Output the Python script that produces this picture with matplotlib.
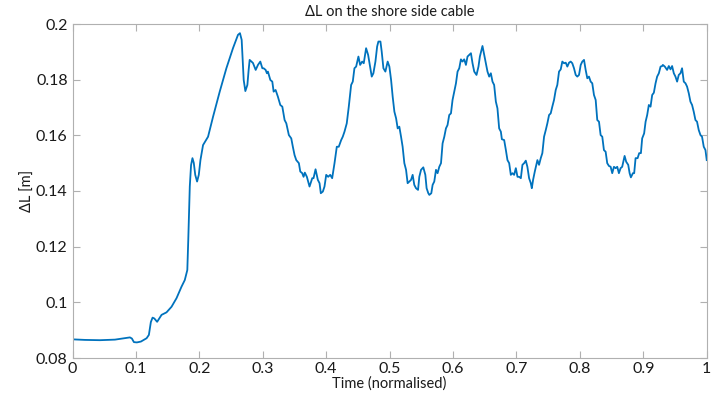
import matplotlib
matplotlib.use("Agg")
import matplotlib.pyplot as plt
from matplotlib.ticker import FuncFormatter

# values
time_norm = [
    0.0000, 0.0197, 0.0433, 0.0669, 0.0905, 0.0936, 0.0968, 0.1015, 0.1078, 0.1168,
    0.1204, 0.1235, 0.1262, 0.1290, 0.1334, 0.1404, 0.1482, 0.1561, 0.1640, 0.1718,
    0.1770, 0.1810, 0.1825, 0.1849, 0.1869, 0.1891, 0.1912, 0.1935, 0.1964, 0.1991,
    0.2017, 0.2058, 0.2137, 0.2216, 0.2321, 0.2426, 0.2530, 0.2609, 0.2640, 0.2667,
    0.2683, 0.2699, 0.2725, 0.2757, 0.2777, 0.2793, 0.2820, 0.2845, 0.2888, 0.2924,
    0.2961, 0.2993, 0.3013, 0.3045, 0.3065, 0.3081, 0.3119, 0.3150, 0.3171, 0.3202,
    0.3238, 0.3276, 0.3308, 0.3344, 0.3371, 0.3411, 0.3449, 0.3474, 0.3501, 0.3528,
    0.3569, 0.3591, 0.3622, 0.3643, 0.3663, 0.3695, 0.3737, 0.3780, 0.3800, 0.3832,
    0.3868, 0.3895, 0.3915, 0.3947, 0.3973, 0.4000, 0.4031, 0.4063, 0.4094, 0.4131,
    0.4167, 0.4198, 0.4236, 0.4261, 0.4288, 0.4324, 0.4356, 0.4393, 0.4419, 0.4445,
    0.4472, 0.4508, 0.4535, 0.4567, 0.4592, 0.4629, 0.4661, 0.4692, 0.4718, 0.4744,
    0.4776, 0.4803, 0.4823, 0.4855, 0.4875, 0.4902, 0.4933, 0.4969, 0.4996, 0.5023,
    0.5048, 0.5075, 0.5102, 0.5127, 0.5153, 0.5180, 0.5205, 0.5232, 0.5259, 0.5284,
    0.5311, 0.5338, 0.5363, 0.5389, 0.5416, 0.5448, 0.5468, 0.5495, 0.5531, 0.5563,
    0.5583, 0.5610, 0.5626, 0.5657, 0.5678, 0.5704, 0.5731, 0.5756, 0.5783, 0.5810,
    0.5835, 0.5862, 0.5888, 0.5913, 0.5940, 0.5967, 0.5992, 0.6019, 0.6046, 0.6071,
    0.6098, 0.6124, 0.6149, 0.6176, 0.6203, 0.6228, 0.6255, 0.6282, 0.6307, 0.6334,
    0.6370, 0.6401, 0.6423, 0.6448, 0.6464, 0.6491, 0.6518, 0.6543, 0.6570, 0.6596,
    0.6622, 0.6648, 0.6675, 0.6700, 0.6727, 0.6754, 0.6770, 0.6806, 0.6833, 0.6858,
    0.6885, 0.6911, 0.6937, 0.6963, 0.6990, 0.7016, 0.7042, 0.7069, 0.7094, 0.7121,
    0.7147, 0.7172, 0.7199, 0.7226, 0.7242, 0.7262, 0.7289, 0.7314, 0.7330, 0.7356,
    0.7383, 0.7408, 0.7435, 0.7462, 0.7487, 0.7514, 0.7540, 0.7565, 0.7592, 0.7619,
    0.7644, 0.7671, 0.7698, 0.7723, 0.7750, 0.7777, 0.7802, 0.7829, 0.7855, 0.7880,
    0.7907, 0.7934, 0.7959, 0.7986, 0.8013, 0.8038, 0.8065, 0.8091, 0.8117, 0.8143,
    0.8170, 0.8195, 0.8222, 0.8249, 0.8274, 0.8301, 0.8327, 0.8353, 0.8379, 0.8406,
    0.8431, 0.8458, 0.8485, 0.8510, 0.8537, 0.8564, 0.8589, 0.8615, 0.8642, 0.8667,
    0.8705, 0.8730, 0.8762, 0.8784, 0.8804, 0.8836, 0.8856, 0.8878, 0.8910, 0.8935,
    0.8962, 0.8982, 0.9013, 0.9036, 0.9061, 0.9087, 0.9114, 0.9140, 0.9166, 0.9193,
    0.9218, 0.9245, 0.9272, 0.9297, 0.9308, 0.9339, 0.9375, 0.9402, 0.9429, 0.9454,
    0.9481, 0.9507, 0.9533, 0.9559, 0.9586, 0.9611, 0.9638, 0.9665, 0.9690, 0.9717,
    0.9743, 0.9769, 0.9795, 0.9822, 0.9847, 0.9874, 0.9901, 0.9926, 0.9953, 0.9980,
    1.0000,
]

delta_L = [
    0.0867, 0.0865, 0.0864, 0.0866, 0.0874, 0.0870, 0.0857, 0.0856, 0.0859, 0.0871,
    0.0883, 0.0929, 0.0945, 0.0942, 0.0930, 0.0955, 0.0964, 0.0984, 0.1015, 0.1056,
    0.1080, 0.1116, 0.1224, 0.1416, 0.1493, 0.1518, 0.1501, 0.1458, 0.1434, 0.1458,
    0.1511, 0.1565, 0.1595, 0.1667, 0.1757, 0.1841, 0.1913, 0.1961, 0.1967, 0.1943,
    0.1871, 0.1799, 0.1759, 0.1781, 0.1835, 0.1871, 0.1865, 0.1860, 0.1835, 0.1853,
    0.1865, 0.1841, 0.1841, 0.1835, 0.1823, 0.1829, 0.1799, 0.1793, 0.1757, 0.1763,
    0.1739, 0.1709, 0.1703, 0.1655, 0.1643, 0.1601, 0.1589, 0.1559, 0.1529, 0.1511,
    0.1500, 0.1470, 0.1464, 0.1451, 0.1466, 0.1451, 0.1416, 0.1446, 0.1446, 0.1478,
    0.1440, 0.1428, 0.1392, 0.1398, 0.1416, 0.1458, 0.1451, 0.1458, 0.1446, 0.1500,
    0.1559, 0.1559, 0.1583, 0.1595, 0.1613, 0.1643, 0.1703, 0.1781, 0.1793, 0.1841,
    0.1847, 0.1883, 0.1853, 0.1865, 0.1859, 0.1913, 0.1889, 0.1847, 0.1811, 0.1823,
    0.1865, 0.1919, 0.1937, 0.1937, 0.1901, 0.1841, 0.1829, 0.1865, 0.1847, 0.1799,
    0.1739, 0.1685, 0.1661, 0.1625, 0.1631, 0.1595, 0.1559, 0.1500, 0.1476, 0.1428,
    0.1434, 0.1440, 0.1458, 0.1422, 0.1410, 0.1404, 0.1451, 0.1476, 0.1485, 0.1458,
    0.1410, 0.1392, 0.1386, 0.1392, 0.1422, 0.1434, 0.1476, 0.1464, 0.1487, 0.1500,
    0.1571, 0.1595, 0.1625, 0.1637, 0.1673, 0.1679, 0.1727, 0.1757, 0.1787, 0.1829,
    0.1841, 0.1873, 0.1865, 0.1873, 0.1853, 0.1883, 0.1889, 0.1895, 0.1859, 0.1829,
    0.1817, 0.1847, 0.1883, 0.1907, 0.1921, 0.1889, 0.1859, 0.1829, 0.1811, 0.1823,
    0.1793, 0.1781, 0.1721, 0.1697, 0.1625, 0.1613, 0.1586, 0.1583, 0.1547, 0.1511,
    0.1500, 0.1458, 0.1464, 0.1458, 0.1482, 0.1451, 0.1451, 0.1446, 0.1494, 0.1500,
    0.1509, 0.1487, 0.1446, 0.1428, 0.1410, 0.1440, 0.1470, 0.1494, 0.1511, 0.1494,
    0.1518, 0.1536, 0.1595, 0.1619, 0.1643, 0.1673, 0.1679, 0.1703, 0.1727, 0.1763,
    0.1781, 0.1829, 0.1837, 0.1865, 0.1859, 0.1861, 0.1847, 0.1861, 0.1865, 0.1859,
    0.1841, 0.1817, 0.1811, 0.1817, 0.1853, 0.1865, 0.1871, 0.1835, 0.1805, 0.1811,
    0.1793, 0.1787, 0.1745, 0.1727, 0.1655, 0.1649, 0.1601, 0.1595, 0.1547, 0.1541,
    0.1500, 0.1490, 0.1487, 0.1464, 0.1487, 0.1482, 0.1487, 0.1464, 0.1482, 0.1487,
    0.1526, 0.1505, 0.1494, 0.1464, 0.1449, 0.1464, 0.1464, 0.1518, 0.1518, 0.1536,
    0.1536, 0.1589, 0.1607, 0.1649, 0.1673, 0.1709, 0.1703, 0.1745, 0.1753, 0.1787,
    0.1811, 0.1823, 0.1847, 0.1849, 0.1853, 0.1847, 0.1835, 0.1849, 0.1837, 0.1849,
    0.1823, 0.1811, 0.1793, 0.1817, 0.1823, 0.1841, 0.1793, 0.1787, 0.1775, 0.1751,
    0.1721, 0.1709, 0.1685, 0.1655, 0.1649, 0.1619, 0.1601, 0.1595, 0.1559, 0.1547,
    0.1511,
]

x_ticks = [0, 0.1, 0.2, 0.3, 0.4, 0.5, 0.6, 0.7, 0.8, 0.9, 1]
y_ticks = [0.08, 0.1, 0.12, 0.14, 0.16, 0.18, 0.2]

plt.rcParams['font.family'] = ['Lato', 'DejaVu Sans']

fig = plt.figure(figsize=(7.11, 4.0), dpi=100)
ax = fig.add_axes([0.102, 0.105, 0.892, 0.835])

ax.plot(time_norm, delta_L, color='#0072BD', linewidth=1.3)

ax.set_xlim(0, 1)
ax.set_ylim(0.08, 0.2)
ax.set_xticks(x_ticks)
ax.set_yticks(y_ticks)
ax.xaxis.set_major_formatter(FuncFormatter(lambda v, p: f'{v:g}'))
ax.yaxis.set_major_formatter(FuncFormatter(lambda v, p: f'{v:g}'))

ax.tick_params(direction='in', length=5, width=0.8, colors='#b0b0b0',
               labelcolor='#1a1a1a', labelsize=11.5, top=True, right=True)
ax.tick_params(axis='x', pad=3)
for s in ax.spines.values():
    s.set_color('#b0b0b0')
    s.set_linewidth(0.8)

ax.set_title('ΔL on the shore side cable', fontsize=10.5, color='#1a1a1a', pad=6)
ax.set_xlabel('Time (normalised)', fontsize=10.5, color='#1a1a1a', labelpad=0)
ax.set_ylabel('ΔL [m]', fontsize=10.5, color='#1a1a1a', labelpad=1)

fig.savefig('out.png', dpi=100)
